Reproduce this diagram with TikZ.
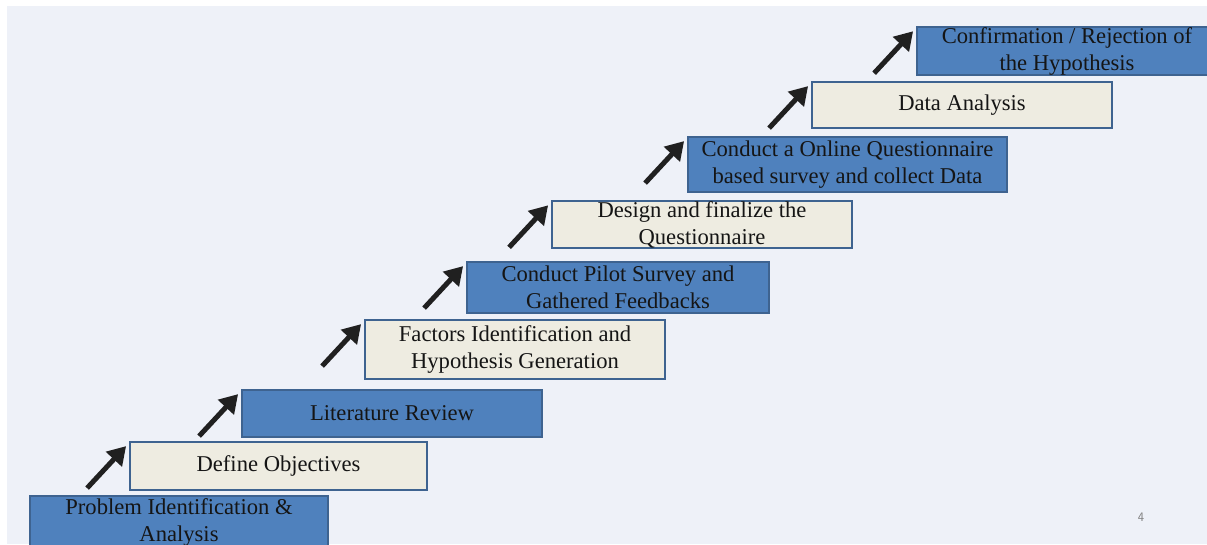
\documentclass[tikz,border=0pt]{standalone}
\usepackage{fontspec}
\setmainfont{Liberation Serif}
\usetikzlibrary{calc,arrows.meta}
\definecolor{bgcol}{HTML}{EEF1F8}
\definecolor{bluefill}{HTML}{4F81BD}
\definecolor{creamfill}{HTML}{EEECE1}
\definecolor{edgecol}{HTML}{3E6390}
\definecolor{arrowcol}{HTML}{202020}
\definecolor{textcol}{HTML}{151515}
\begin{document}
\begin{tikzpicture}[x=1pt,y=-1pt,
  stepbox/.style={draw=edgecol, line width=1.8pt, inner sep=0pt, align=center,
    text=textcol, font=\fontsize{22.6}{27}\selectfont, minimum width=300pt},
  bluebox/.style={stepbox, fill=bluefill},
  creambox/.style={stepbox, fill=creamfill},
  uparrow/.style={draw=arrowcol, line width=5pt, -{Triangle[length=18pt,width=21pt]}}]
\useasboundingbox (0,0) rectangle (1207,544);
\fill[white] (0,0) rectangle (1207,544);
\fill[bgcol] (7,6) rectangle (1207,544);

\node[bluebox, minimum width=298pt, minimum height=52pt] (n1) at (179,522) {Problem Identification \&\\Analysis};
\node[creambox, minimum width=297pt, minimum height=48pt] (n2) at (278.5,466) {Define Objectives};
\node[bluebox, minimum height=47pt] (n3) at (392,413.5) {Literature Review};
\node[creambox, minimum height=59pt] (n4) at (515,349.5) {Factors Identification and\\Hypothesis Generation};
\node[bluebox, minimum width=302pt, minimum height=51pt] (n5) at (618,287.5) {Conduct Pilot Survey and\\Gathered Feedbacks};
\node[creambox, minimum height=46pt] (n6) at (702,224.5) {Design and finalize the\\Questionnaire};
\node[bluebox, minimum width=319pt, minimum height=55pt] (n7) at (847.5,164.5) {Conduct a Online Questionnaire\\based survey and collect Data};
\node[creambox, minimum height=46pt] (n8) at (962,105) {Data Analysis};
\node[bluebox, minimum height=47pt] (n9) at (1067,51) {Confirmation / Rejection of\\the Hypothesis};

\foreach \i in {2,...,9}{
  \coordinate (t\i) at ($(n\i.north west)+(-42,47)$);
  \coordinate (h\i) at ($(n\i.north west)+(-3,5)$);
  \draw[uparrow] (t\i) -- (h\i);
}

\node[text=gray, font=\sffamily\fontsize{13}{15}\selectfont] (pg) at (1141,517) {4};
\end{tikzpicture}
\end{document}
